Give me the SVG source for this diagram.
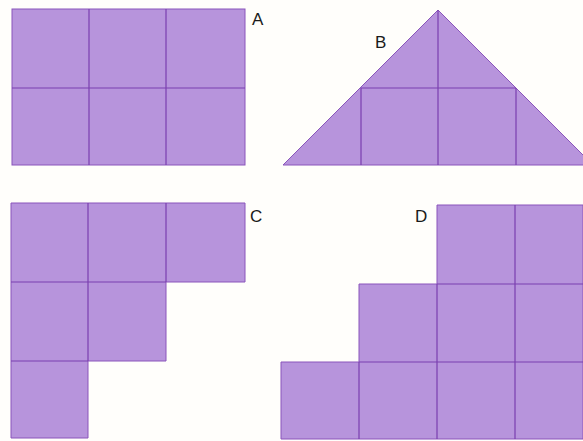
<svg xmlns="http://www.w3.org/2000/svg" width="583" height="441" viewBox="0 0 583 441">
<style>
.sh{fill:#b794dc;stroke:#8a55bb;stroke-width:1}
.g{stroke:#7b3fb0;stroke-width:1.2;fill:none}
.lb{font-family:"Liberation Sans",Arial,sans-serif;font-size:17px;fill:#1a1a1a}
</style>
<rect width="583" height="441" fill="#fffefb"/>
<g id="A">
<rect class="sh" x="12" y="9" width="233" height="156"/>
<path class="g" d="M89 9V165M166 9V165M12 88H245"/>
<text class="lb" x="252" y="25">A</text>
</g>
<g id="B">
<polygon class="sh" points="438,10 283,165 593,165"/>
<path class="g" d="M438 10V165M361 88H516M361 88V165M516 88V165"/>
<text class="lb" x="375" y="48">B</text>
</g>
<g id="C">
<polygon class="sh" points="11,203 245,203 245,282 166,282 166,361 88,361 88,438 11,438"/>
<path class="g" d="M11 282H166M11 361H88M88 203V361M166 203V282"/>
<text class="lb" x="250" y="222">C</text>
</g>
<g id="D">
<polygon class="sh" points="437,205 583,205 583,439 281,439 281,362 359,362 359,284 437,284"/>
<path class="g" d="M437 284H583M359 362H583M359 362V439M437 284V439M515 205V439"/>
<text class="lb" x="415" y="222">D</text>
</g>
</svg>
